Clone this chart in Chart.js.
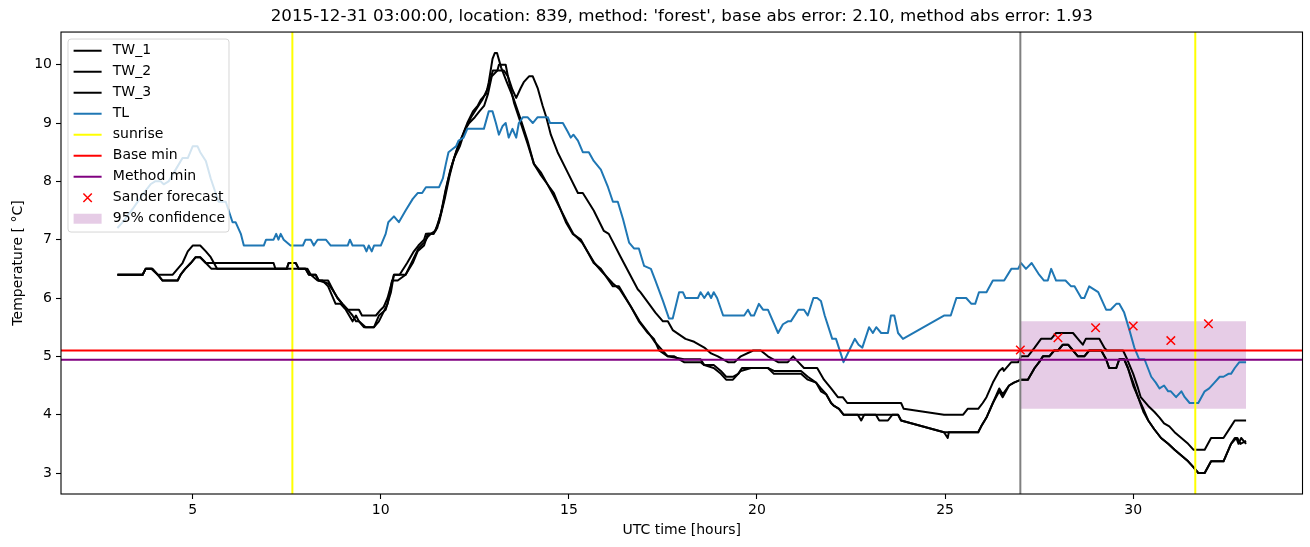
<!DOCTYPE html>
<html>
<head>
<meta charset="utf-8">
<script src="https://cdn.jsdelivr.net/npm/chart.js@4.4.0/dist/chart.umd.min.js"></script>
<style>
    html, body { margin: 0; padding: 0; background: #ffffff; }
    #wrap { width: 1310px; height: 547px; }
</style>
</head>
<body>
<div id="wrap"><canvas id="chart" width="1310" height="547"></canvas></div>
<script>
(function (window, document) {
    'use strict';

    var TITLE = "2015-12-31 03:00:00, location: 839, method: 'forest', base abs error: 2.10, method abs error: 1.93";

    var X_MIN = 1.5, X_MAX = 34.5;
    var Y_MIN = 2.64, Y_MAX = 10.56;
    var X_TICKS = [5, 10, 15, 20, 25, 30];
    var Y_TICKS = [3, 4, 5, 6, 7, 8, 9, 10];

    // [hour, temperature]
    var TW_1 = [
        [3.0, 6.4], [3.67, 6.4], [3.75, 6.5], [3.93, 6.5], [4.07, 6.4], [4.47, 6.4], [4.6, 6.5], [4.73, 6.6],
        [4.87, 6.8], [5.0, 6.9], [5.2, 6.9], [5.35, 6.8], [5.48, 6.7], [5.65, 6.5], [7.5, 6.5], [7.55, 6.6],
        [7.74, 6.6], [7.82, 6.5], [8.05, 6.5], [8.14, 6.4], [8.32, 6.3], [8.45, 6.3], [8.6, 6.2], [8.8, 5.9],
        [8.93, 5.9], [9.07, 5.8], [9.25, 5.6], [9.34, 5.7], [9.42, 5.6], [9.55, 5.5], [9.82, 5.5], [9.95, 5.7],
        [10.13, 5.8], [10.27, 6.1], [10.35, 6.4], [10.5, 6.4], [10.7, 6.6], [10.88, 6.8], [11.0, 6.9], [11.15, 7.0],
        [11.2, 7.1], [11.4, 7.1], [11.5, 7.2], [11.65, 7.6], [11.78, 8.0], [11.9, 8.3], [12.05, 8.6], [12.18, 8.8],
        [12.3, 9.0], [12.45, 9.2], [12.58, 9.3], [12.66, 9.4], [12.8, 9.5], [12.87, 9.7], [12.97, 10.1], [13.03, 10.2],
        [13.09, 10.2], [13.2, 9.95], [13.35, 9.7], [13.54, 9.4], [13.72, 9.06], [13.9, 8.7], [14.07, 8.3], [14.26, 8.1],
        [14.6, 7.8], [14.92, 7.3], [15.1, 7.1], [15.32, 7.0], [15.66, 6.6], [15.85, 6.5], [16.17, 6.2], [16.33, 6.2],
        [16.65, 5.85], [16.86, 5.6], [17.1, 5.4], [17.26, 5.3], [17.4, 5.1], [17.63, 5.0], [17.8, 5.0], [18.06, 4.9],
        [18.5, 4.9], [18.6, 4.85], [18.85, 4.8], [19.04, 4.7], [19.18, 4.6], [19.36, 4.6], [19.5, 4.7], [19.57, 4.75],
        [19.84, 4.8], [20.29, 4.8], [20.45, 4.7], [21.17, 4.7], [21.35, 4.6], [21.57, 4.55], [21.7, 4.4], [21.84, 4.35],
        [21.97, 4.2], [22.05, 4.15], [22.18, 4.1], [22.3, 4.0], [22.68, 4.0], [22.77, 3.9], [22.85, 4.0], [23.75, 4.0],
        [23.83, 3.9], [24.97, 3.7], [25.07, 3.6], [25.1, 3.7], [25.88, 3.7], [25.96, 3.8], [26.1, 3.95], [26.27, 4.2],
        [26.44, 4.4], [26.53, 4.3], [26.7, 4.5], [26.83, 4.55], [27.02, 4.6], [27.2, 4.6], [27.38, 4.8], [27.5, 4.9],
        [27.6, 5.0], [27.77, 5.0], [27.9, 5.1], [28.0, 5.1], [28.13, 5.2], [28.27, 5.2], [28.4, 5.1], [28.53, 5.0],
        [28.7, 5.0], [28.83, 5.1], [29.15, 5.1], [29.28, 4.95], [29.36, 4.8], [29.55, 4.8], [29.63, 4.95], [29.76, 4.95],
        [29.86, 4.8], [30.0, 4.55], [30.13, 4.3], [30.27, 4.1], [30.4, 3.9], [30.56, 3.75], [30.74, 3.6], [30.93, 3.5],
        [31.1, 3.4], [31.28, 3.3], [31.46, 3.2], [31.6, 3.1], [31.73, 3.0], [31.9, 3.0], [32.07, 3.2], [32.4, 3.2],
        [32.6, 3.5], [32.74, 3.6], [32.8, 3.5], [32.87, 3.6], [33.0, 3.5]
    ];

    var TW_2 = [
        [3.0, 6.4], [3.67, 6.4], [3.75, 6.5], [3.9, 6.5], [4.07, 6.4], [4.2, 6.3], [4.6, 6.3], [4.68, 6.4],
        [4.8, 6.5], [4.95, 6.6], [5.08, 6.7], [5.2, 6.7], [5.35, 6.6], [7.15, 6.6], [7.2, 6.5], [8.0, 6.5],
        [8.09, 6.4], [8.27, 6.4], [8.35, 6.3], [8.6, 6.3], [8.76, 6.1], [8.85, 6.0], [8.98, 5.9], [9.12, 5.8],
        [9.42, 5.8], [9.5, 5.7], [9.87, 5.7], [10.0, 5.8], [10.08, 5.85], [10.18, 6.0], [10.35, 6.4], [10.66, 6.4],
        [10.85, 6.6], [10.98, 6.8], [11.15, 6.9], [11.25, 7.1], [11.4, 7.1], [11.55, 7.3], [11.7, 7.7], [11.83, 8.1],
        [11.95, 8.4], [12.1, 8.6], [12.25, 8.9], [12.35, 9.0], [12.5, 9.1], [12.62, 9.2], [12.75, 9.3], [12.85, 9.5],
        [12.95, 9.8], [13.1, 9.9], [13.27, 9.9], [13.38, 9.8], [13.5, 9.57], [13.6, 9.43], [13.72, 9.6], [13.8, 9.7],
        [13.94, 9.8], [14.04, 9.8], [14.17, 9.6], [14.3, 9.3], [14.4, 9.1], [14.52, 8.8], [14.7, 8.5], [14.97, 8.15],
        [15.24, 7.8], [15.37, 7.8], [15.66, 7.5], [15.93, 7.15], [16.06, 7.1], [16.38, 6.7], [16.83, 6.15], [16.9, 6.1],
        [17.13, 5.9], [17.3, 5.75], [17.5, 5.6], [17.63, 5.6], [17.76, 5.45], [18.1, 5.3], [18.33, 5.25], [18.6, 5.15],
        [18.78, 5.05], [18.96, 5.0], [19.23, 4.9], [19.4, 4.9], [19.57, 5.0], [19.9, 5.1], [20.1, 5.1], [20.29, 5.0],
        [20.56, 4.9], [20.82, 4.9], [20.96, 5.0], [21.1, 4.9], [21.25, 4.8], [21.6, 4.8], [21.78, 4.6], [21.97, 4.45],
        [22.15, 4.3], [22.28, 4.3], [22.4, 4.2], [23.83, 4.2], [23.9, 4.1], [24.97, 4.0], [25.48, 4.0], [25.6, 4.1],
        [25.88, 4.1], [26.0, 4.2], [26.1, 4.3], [26.27, 4.55], [26.44, 4.75], [26.53, 4.8], [26.56, 4.75], [26.76, 4.9],
        [26.94, 4.9], [27.02, 5.0], [27.2, 5.0], [27.38, 5.15], [27.55, 5.3], [27.82, 5.3], [27.95, 5.4], [28.4, 5.4],
        [28.53, 5.3], [28.66, 5.2], [28.74, 5.3], [29.1, 5.3], [29.23, 5.15], [29.3, 5.1], [29.73, 5.1], [29.84, 4.95],
        [30.0, 4.7], [30.13, 4.45], [30.2, 4.3], [30.4, 4.15], [30.56, 4.05], [30.7, 3.95], [30.82, 3.85], [30.96, 3.8],
        [31.1, 3.7], [31.28, 3.6], [31.46, 3.5], [31.6, 3.4], [31.9, 3.4], [32.07, 3.6], [32.4, 3.6], [32.6, 3.8],
        [32.7, 3.9], [33.0, 3.9]
    ];

    var TW_3 = [
        [3.0, 6.4], [3.67, 6.4], [3.75, 6.5], [3.93, 6.5], [4.07, 6.4], [4.2, 6.3], [4.6, 6.3], [4.68, 6.4],
        [4.8, 6.5], [4.95, 6.6], [5.08, 6.7], [5.2, 6.7], [5.35, 6.6], [5.5, 6.5], [7.5, 6.5], [7.55, 6.6],
        [7.74, 6.6], [7.82, 6.5], [8.0, 6.5], [8.09, 6.4], [8.27, 6.4], [8.35, 6.3], [8.6, 6.25], [8.76, 6.1],
        [8.85, 6.0], [8.98, 5.9], [9.12, 5.8], [9.25, 5.7], [9.34, 5.6], [9.42, 5.6], [9.6, 5.5], [9.82, 5.5],
        [9.95, 5.6], [10.18, 5.9], [10.3, 6.3], [10.45, 6.3], [10.66, 6.4], [10.85, 6.65], [11.0, 6.85], [11.15, 6.95],
        [11.25, 7.05], [11.33, 7.1], [11.45, 7.15], [11.6, 7.45], [11.72, 7.85], [11.85, 8.2], [12.0, 8.5], [12.12, 8.7],
        [12.25, 8.9], [12.4, 9.1], [12.55, 9.25], [12.7, 9.4], [12.85, 9.6], [12.98, 9.9], [13.1, 9.9], [13.14, 10.0],
        [13.32, 10.0], [13.38, 9.8], [13.54, 9.35], [13.72, 9.0], [13.9, 8.65], [14.07, 8.3], [14.26, 8.15], [14.6, 7.75],
        [14.95, 7.3], [15.12, 7.1], [15.35, 6.95], [15.68, 6.6], [15.88, 6.45], [16.17, 6.25], [16.35, 6.15], [16.65, 5.85],
        [16.88, 5.6], [17.12, 5.4], [17.28, 5.25], [17.42, 5.15], [17.63, 5.0], [18.06, 4.95], [18.5, 4.95], [18.6, 4.85],
        [18.85, 4.85], [19.04, 4.75], [19.18, 4.65], [19.36, 4.65], [19.5, 4.7], [19.6, 4.8], [20.29, 4.8], [20.45, 4.75],
        [21.17, 4.75], [21.35, 4.65], [21.57, 4.55], [21.7, 4.45], [21.84, 4.35], [21.97, 4.2], [22.05, 4.15], [22.18, 4.1],
        [22.3, 4.0], [23.16, 4.0], [23.25, 3.9], [23.48, 3.9], [23.6, 4.0], [23.75, 4.0], [23.83, 3.9], [24.97, 3.7],
        [25.88, 3.7], [25.96, 3.8], [26.1, 3.95], [26.27, 4.2], [26.44, 4.45], [26.53, 4.35], [26.7, 4.5], [26.83, 4.55],
        [27.02, 4.6], [27.2, 4.6], [27.38, 4.8], [27.5, 4.9], [27.6, 5.0], [27.77, 5.0], [27.9, 5.1], [28.0, 5.1],
        [28.13, 5.2], [28.27, 5.2], [28.4, 5.1], [28.53, 5.0], [28.7, 5.0], [28.83, 5.1], [29.15, 5.1], [29.28, 4.95],
        [29.36, 4.8], [29.55, 4.8], [29.63, 4.95], [29.76, 4.95], [29.86, 4.8], [30.0, 4.5], [30.13, 4.3], [30.27, 4.05],
        [30.4, 3.9], [30.56, 3.75], [30.74, 3.6], [30.93, 3.5], [31.1, 3.4], [31.28, 3.3], [31.46, 3.2], [31.6, 3.1],
        [31.73, 3.0], [31.9, 3.0], [32.07, 3.2], [32.4, 3.2], [32.6, 3.5], [32.7, 3.6], [32.77, 3.6], [32.85, 3.5],
        [33.0, 3.55]
    ];

    var TL = [
        [3.0, 7.2], [3.14, 7.3], [3.43, 7.55], [3.7, 7.8], [3.88, 7.95], [4.0, 8.0], [4.15, 8.0], [4.23, 7.95],
        [4.36, 8.0], [4.5, 8.15], [4.73, 8.4], [4.87, 8.4], [5.0, 8.6], [5.13, 8.6], [5.2, 8.5], [5.35, 8.35],
        [5.48, 8.05], [5.61, 7.8], [5.69, 7.65], [5.88, 7.65], [6.06, 7.3], [6.14, 7.3], [6.28, 7.1], [6.36, 6.9],
        [6.89, 6.9], [6.95, 7.0], [7.15, 7.0], [7.22, 7.1], [7.28, 7.0], [7.34, 7.1], [7.42, 7.0], [7.6, 6.9],
        [7.93, 6.9], [8.0, 7.0], [8.14, 7.0], [8.22, 6.9], [8.32, 7.0], [8.54, 7.0], [8.67, 6.9], [9.12, 6.9],
        [9.18, 7.0], [9.25, 6.9], [9.55, 6.9], [9.62, 6.8], [9.68, 6.9], [9.76, 6.8], [9.82, 6.9], [10.0, 6.9],
        [10.13, 7.1], [10.2, 7.3], [10.35, 7.4], [10.48, 7.3], [10.66, 7.5], [10.85, 7.7], [10.98, 7.8], [11.1, 7.8],
        [11.2, 7.9], [11.55, 7.9], [11.65, 8.05], [11.73, 8.3], [11.8, 8.5], [11.9, 8.55], [12.0, 8.6], [12.07, 8.7],
        [12.2, 8.75], [12.3, 8.9], [12.74, 8.9], [12.87, 9.2], [12.97, 9.2], [13.06, 9.0], [13.14, 8.8], [13.24, 8.95],
        [13.32, 9.0], [13.4, 8.75], [13.5, 8.9], [13.6, 8.75], [13.67, 9.0], [13.78, 9.1], [13.9, 9.1], [14.04, 9.0],
        [14.17, 9.1], [14.44, 9.1], [14.5, 9.0], [14.84, 9.0], [14.97, 8.85], [15.05, 8.75], [15.12, 8.8], [15.24, 8.7],
        [15.37, 8.5], [15.53, 8.5], [15.66, 8.35], [15.85, 8.2], [16.04, 7.9], [16.17, 7.65], [16.3, 7.65], [16.44, 7.35],
        [16.6, 6.95], [16.73, 6.85], [16.86, 6.85], [17.0, 6.55], [17.18, 6.5], [17.3, 6.3], [17.5, 5.95], [17.66, 5.65],
        [17.76, 5.65], [17.93, 6.1], [18.03, 6.1], [18.1, 6.0], [18.43, 6.0], [18.5, 6.1], [18.6, 6.0], [18.7, 6.1],
        [18.78, 6.0], [18.85, 6.1], [18.94, 6.0], [19.1, 5.7], [19.66, 5.7], [19.76, 5.8], [19.84, 5.7], [19.92, 5.7],
        [20.05, 5.9], [20.16, 5.8], [20.29, 5.8], [20.56, 5.4], [20.69, 5.55], [20.82, 5.6], [20.9, 5.6], [21.1, 5.8],
        [21.25, 5.8], [21.35, 5.7], [21.5, 6.0], [21.6, 6.0], [21.7, 5.95], [21.8, 5.7], [21.9, 5.5], [22.0, 5.3],
        [22.1, 5.3], [22.3, 4.9], [22.45, 5.1], [22.6, 5.3], [22.7, 5.2], [22.8, 5.15], [22.98, 5.5], [23.08, 5.4],
        [23.17, 5.5], [23.3, 5.4], [23.48, 5.4], [23.56, 5.7], [23.65, 5.7], [23.75, 5.4], [23.88, 5.3], [24.97, 5.7],
        [25.15, 5.7], [25.3, 6.0], [25.56, 6.0], [25.7, 5.9], [25.8, 5.9], [25.9, 6.1], [26.1, 6.1], [26.27, 6.3],
        [26.57, 6.3], [26.76, 6.5], [26.94, 6.5], [27.02, 6.6], [27.15, 6.5], [27.3, 6.6], [27.5, 6.4], [27.63, 6.3],
        [27.73, 6.3], [27.82, 6.5], [27.95, 6.3], [28.2, 6.3], [28.35, 6.2], [28.44, 6.2], [28.62, 6.0], [28.7, 6.0],
        [28.83, 6.2], [29.07, 6.1], [29.28, 5.8], [29.4, 5.8], [29.55, 5.9], [29.63, 5.9], [29.76, 5.75], [29.9, 5.45],
        [30.03, 5.15], [30.16, 4.95], [30.3, 4.95], [30.48, 4.65], [30.6, 4.55], [30.7, 4.45], [30.82, 4.5], [30.93, 4.4],
        [31.0, 4.4], [31.14, 4.3], [31.28, 4.4], [31.37, 4.3], [31.5, 4.2], [31.73, 4.2], [31.9, 4.4], [32.02, 4.45],
        [32.16, 4.55], [32.3, 4.65], [32.4, 4.65], [32.53, 4.7], [32.6, 4.7], [32.7, 4.8], [32.82, 4.9], [33.0, 4.9]
    ];

    var SUNRISE_HOURS = [7.65, 31.65];
    var FORECAST_START_HOUR = 27.0;
    var BASE_MIN = 5.1;
    var METHOD_MIN = 4.94;
    var FORECAST_HOURS = [27, 28, 29, 30, 31, 32];
    var FORECAST_VALUES = [5.11, 5.32, 5.49, 5.52, 5.27, 5.56];
    var CONFIDENCE_HOURS = [27, 33];
    var CONFIDENCE_LOW = 4.1;
    var CONFIDENCE_HIGH = 5.6;

    var FONT = 'DejaVu Sans';
    var BAND_COLOR = 'rgba(128, 0, 128, 0.2)';

    function toPoints(pairs) {
        return pairs.map(function (p) {
            return { x: p[0], y: p[1] };
        });
    }

    function lineSet(label, pairs, color, order) {
        return {
            label: label,
            data: toPoints(pairs),
            borderColor: color,
            borderWidth: 2,
            pointRadius: 0,
            fill: false,
            tension: 0,
            borderJoinStyle: 'round',
            order: order
        };
    }

    function vline(hour) {
        return [{ x: hour, y: Y_MIN }, { x: hour, y: Y_MAX }];
    }

    var datasets = [
        {
            label: 'Sander forecast',
            data: FORECAST_HOURS.map(function (h, i) { return { x: h, y: FORECAST_VALUES[i] }; }),
            showLine: false,
            pointStyle: 'crossRot',
            pointRadius: 6,
            pointBorderWidth: 1.5,
            pointBorderColor: '#ff0000',
            borderColor: '#ff0000',
            backgroundColor: '#ff0000',
            order: 0
        },
        lineSet('Method min', [[X_MIN, METHOD_MIN], [X_MAX, METHOD_MIN]], '#800080', 1),
        lineSet('Base min', [[X_MIN, BASE_MIN], [X_MAX, BASE_MIN]], '#ff0000', 2),
        {
            label: 'now',
            data: vline(FORECAST_START_HOUR),
            borderColor: '#808080',
            borderWidth: 2,
            pointRadius: 0,
            order: 3
        }
    ];

    SUNRISE_HOURS.forEach(function (h) {
        datasets.push({
            label: 'sunrise',
            data: vline(h),
            borderColor: '#ffff00',
            borderWidth: 2,
            pointRadius: 0,
            order: 4
        });
    });

    datasets.push(lineSet('TL', TL, '#1f77b4', 5));
    datasets.push(lineSet('TW_3', TW_3, '#000000', 6));
    datasets.push(lineSet('TW_2', TW_2, '#000000', 7));
    datasets.push(lineSet('TW_1', TW_1, '#000000', 8));
    datasets.push({
        label: '95% confidence',
        data: CONFIDENCE_HOURS.map(function (h) { return { x: h, y: CONFIDENCE_HIGH }; }),
        borderWidth: 0,
        borderColor: 'rgba(0,0,0,0)',
        backgroundColor: BAND_COLOR,
        pointRadius: 0,
        fill: { value: CONFIDENCE_LOW },
        order: 9
    });

    var LEGEND_ITEMS = [
        { text: 'TW_1', kind: 'line', color: '#000000' },
        { text: 'TW_2', kind: 'line', color: '#000000' },
        { text: 'TW_3', kind: 'line', color: '#000000' },
        { text: 'TL', kind: 'line', color: '#1f77b4' },
        { text: 'sunrise', kind: 'line', color: '#ffff00' },
        { text: 'Base min', kind: 'line', color: '#ff0000' },
        { text: 'Method min', kind: 'line', color: '#800080' },
        { text: 'Sander forecast', kind: 'cross', color: '#ff0000' },
        { text: '95% confidence', kind: 'patch', color: BAND_COLOR }
    ];

    var framePlugin = {
        id: 'frame',
        afterDatasetsDraw: function (chart) {
            var a = chart.chartArea;
            var ctx = chart.ctx;
            ctx.save();
            ctx.strokeStyle = '#000000';
            ctx.lineWidth = 1.1;
            ctx.strokeRect(a.left, a.top, a.right - a.left, a.bottom - a.top);
            ctx.restore();
        }
    };

    var legendPlugin = {
        id: 'boxLegend',
        afterDraw: function (chart) {
            var a = chart.chartArea;
            var ctx = chart.ctx;
            var left = a.left + 7, top = a.top + 7;
            var w = 161, h = 193, r = 3;

            ctx.save();
            ctx.beginPath();
            ctx.moveTo(left + r, top);
            ctx.lineTo(left + w - r, top);
            ctx.arcTo(left + w, top, left + w, top + r, r);
            ctx.lineTo(left + w, top + h - r);
            ctx.arcTo(left + w, top + h, left + w - r, top + h, r);
            ctx.lineTo(left + r, top + h);
            ctx.arcTo(left, top + h, left, top + h - r, r);
            ctx.lineTo(left, top + r);
            ctx.arcTo(left, top, left + r, top, r);
            ctx.closePath();
            ctx.fillStyle = 'rgba(255,255,255,0.8)';
            ctx.fill();
            ctx.strokeStyle = 'rgba(204,204,204,0.8)';
            ctx.lineWidth = 1;
            ctx.stroke();

            ctx.font = '14px "' + FONT + '"';
            ctx.textBaseline = 'middle';
            ctx.textAlign = 'left';

            LEGEND_ITEMS.forEach(function (item, i) {
                var y = top + 11.7 + i * 21;
                var x0 = left + 5.6, x1 = left + 33.6;
                if (item.kind === 'line') {
                    ctx.strokeStyle = item.color;
                    ctx.lineWidth = 2;
                    ctx.beginPath();
                    ctx.moveTo(x0, y);
                    ctx.lineTo(x1, y);
                    ctx.stroke();
                } else if (item.kind === 'cross') {
                    var cx = (x0 + x1) / 2, d = 4.2;
                    ctx.strokeStyle = item.color;
                    ctx.lineWidth = 1.5;
                    ctx.beginPath();
                    ctx.moveTo(cx - d, y - d);
                    ctx.lineTo(cx + d, y + d);
                    ctx.moveTo(cx - d, y + d);
                    ctx.lineTo(cx + d, y - d);
                    ctx.stroke();
                } else {
                    ctx.fillStyle = item.color;
                    ctx.fillRect(x0, y - 5, x1 - x0, 10);
                }
                ctx.fillStyle = '#000000';
                ctx.fillText(item.text, left + 44.8, y);
            });
            ctx.restore();
        }
    };

    function init() {
        if (typeof Chart === 'undefined') {
            return;
        }

        var canvas = document.getElementById('chart');

        new Chart(canvas, {
            type: 'line',
            data: { datasets: datasets },
            options: {
                responsive: false,
                animation: false,
                devicePixelRatio: 1,
                events: [],
                layout: { padding: { left: 0, right: 6, top: 0, bottom: 0 } },
                plugins: {
                    legend: { display: false },
                    tooltip: { enabled: false },
                    title: {
                        display: true,
                        fullSize: false,
                        text: TITLE,
                        color: '#000000',
                        font: { family: FONT, size: 16.7, weight: 'normal' },
                        padding: { top: 7, bottom: 5 }
                    }
                },
                scales: {
                    x: {
                        type: 'linear',
                        min: X_MIN,
                        max: X_MAX,
                        afterBuildTicks: function (scale) {
                            scale.ticks = X_TICKS.map(function (v) { return { value: v }; });
                        },
                        afterFit: function (scale) {
                            scale.height = 53;
                        },
                        grid: {
                            display: true,
                            drawOnChartArea: false,
                            drawTicks: true,
                            tickLength: 5,
                            tickWidth: 1.1,
                            tickColor: '#000000'
                        },
                        border: { display: false },
                        ticks: {
                            color: '#000000',
                            font: { family: FONT, size: 14 },
                            padding: 3,
                            maxRotation: 0,
                            autoSkip: false,
                            callback: function (v) { return String(v); }
                        },
                        title: {
                            display: true,
                            text: 'UTC time [hours]',
                            color: '#000000',
                            font: { family: FONT, size: 14 },
                            padding: { top: 0, bottom: 8 }
                        }
                    },
                    y: {
                        type: 'linear',
                        min: Y_MIN,
                        max: Y_MAX,
                        afterBuildTicks: function (scale) {
                            scale.ticks = Y_TICKS.map(function (v) { return { value: v }; });
                        },
                        afterFit: function (scale) {
                            scale.width = 61;
                        },
                        grid: {
                            display: true,
                            drawOnChartArea: false,
                            drawTicks: true,
                            tickLength: 5,
                            tickWidth: 1.1,
                            tickColor: '#000000'
                        },
                        border: { display: false },
                        ticks: {
                            color: '#000000',
                            font: { family: FONT, size: 14 },
                            padding: 4,
                            autoSkip: false,
                            callback: function (v) { return String(v); }
                        },
                        title: {
                            display: true,
                            text: 'Temperature [ \u00b0C]',
                            color: '#000000',
                            font: { family: FONT, size: 14 },
                            padding: { top: 10, bottom: 0 }
                        }
                    }
                }
            },
            plugins: [framePlugin, legendPlugin]
        });
    }

    if (document.readyState === 'loading') {
        document.addEventListener('DOMContentLoaded', init);
    } else {
        init();
    }
})(window, document);
</script>
</body>
</html>
